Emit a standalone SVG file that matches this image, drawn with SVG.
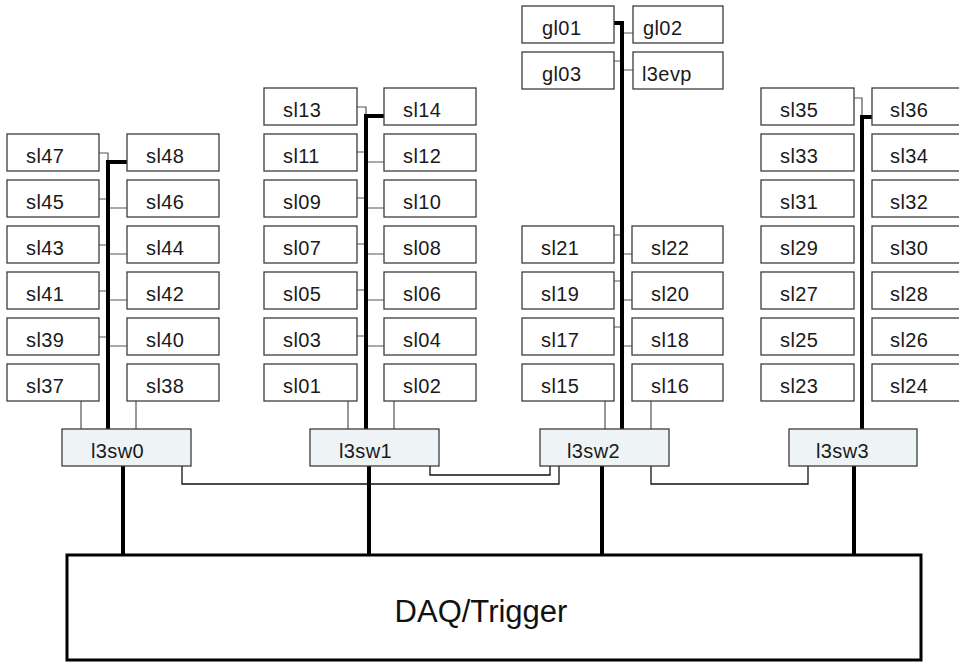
<svg xmlns="http://www.w3.org/2000/svg" width="959" height="663" viewBox="0 0 959 663">
<style>
.b{fill:#fff;stroke:#3c3c3c;stroke-width:1.3}
.s{fill:#eef3f6;stroke:#3c3c3c;stroke-width:1.3}
.t{font-family:"Liberation Sans",Arial,sans-serif;font-size:20px;letter-spacing:0.4px;fill:#1a1a1a}
.th{fill:none;stroke:#000;stroke-width:4}
.tn{fill:none;stroke:#555;stroke-width:1.2}
.tb{fill:none;stroke:#111;stroke-width:1.3}
</style>
<rect width="959" height="663" fill="#fff"/>
<g id="connectors">
<path class="tn" d="M99,153H108V162M99,199H108M108,208H127M99,245H108M108,254H127M99,291H108M108,300H127M99,337H108M108,346H127M81,401V429M136,401V429"/>
<path class="th" d="M127,162H108V429M123,466V555"/>
<path class="tn" d="M357,107H366V116M357,152H366M366,162H384M357,198H366M366,208H384M357,244H366M366,254H384M357,290H366M366,300H384M357,336H366M366,346H384M348,401V429M394,401V429"/>
<path class="th" d="M384,116H366V429M369,466V555"/>
<path class="tn" d="M622,33H633M614,61H622M622,70H633M614,235H622M622,254H632M614,281H622M622,300H632M614,327H622M622,346H632M605,401V429M651,401V429"/>
<path class="th" d="M614,23H622V429M602,466V555"/>
<path class="tn" d="M854,98H862V117"/>
<path class="th" d="M872,117H862V429M854,466V555"/>
<path class="tb" d="M182,466V484H559V466M430,466V475H550V466M651,466V484H808V466"/>
</g>
<g id="sl47"><rect class="b" x="7" y="134" width="92" height="37"/><text class="t" x="26" y="163">sl47</text></g>
<g id="sl48"><rect class="b" x="127" y="134" width="92" height="37"/><text class="t" x="146" y="163">sl48</text></g>
<g id="sl45"><rect class="b" x="7" y="180" width="92" height="37"/><text class="t" x="26" y="209">sl45</text></g>
<g id="sl46"><rect class="b" x="127" y="180" width="92" height="37"/><text class="t" x="146" y="209">sl46</text></g>
<g id="sl43"><rect class="b" x="7" y="226" width="92" height="37"/><text class="t" x="26" y="255">sl43</text></g>
<g id="sl44"><rect class="b" x="127" y="226" width="92" height="37"/><text class="t" x="146" y="255">sl44</text></g>
<g id="sl41"><rect class="b" x="7" y="272" width="92" height="37"/><text class="t" x="26" y="301">sl41</text></g>
<g id="sl42"><rect class="b" x="127" y="272" width="92" height="37"/><text class="t" x="146" y="301">sl42</text></g>
<g id="sl39"><rect class="b" x="7" y="318" width="92" height="37"/><text class="t" x="26" y="347">sl39</text></g>
<g id="sl40"><rect class="b" x="127" y="318" width="92" height="37"/><text class="t" x="146" y="347">sl40</text></g>
<g id="sl37"><rect class="b" x="7" y="364" width="92" height="37"/><text class="t" x="26" y="393">sl37</text></g>
<g id="sl38"><rect class="b" x="127" y="364" width="92" height="37"/><text class="t" x="146" y="393">sl38</text></g>
<g id="l3sw0"><rect class="s" x="62" y="429" width="129" height="37"/><text class="t" x="91" y="458">l3sw0</text></g>

<g id="sl13"><rect class="b" x="264" y="88" width="93" height="37"/><text class="t" x="283" y="117">sl13</text></g>
<g id="sl14"><rect class="b" x="384" y="88" width="92" height="37"/><text class="t" x="403" y="117">sl14</text></g>
<g id="sl11"><rect class="b" x="264" y="134" width="93" height="37"/><text class="t" x="283" y="163">sl11</text></g>
<g id="sl12"><rect class="b" x="384" y="134" width="92" height="37"/><text class="t" x="403" y="163">sl12</text></g>
<g id="sl09"><rect class="b" x="264" y="180" width="93" height="37"/><text class="t" x="283" y="209">sl09</text></g>
<g id="sl10"><rect class="b" x="384" y="180" width="92" height="37"/><text class="t" x="403" y="209">sl10</text></g>
<g id="sl07"><rect class="b" x="264" y="226" width="93" height="37"/><text class="t" x="283" y="255">sl07</text></g>
<g id="sl08"><rect class="b" x="384" y="226" width="92" height="37"/><text class="t" x="403" y="255">sl08</text></g>
<g id="sl05"><rect class="b" x="264" y="272" width="93" height="37"/><text class="t" x="283" y="301">sl05</text></g>
<g id="sl06"><rect class="b" x="384" y="272" width="92" height="37"/><text class="t" x="403" y="301">sl06</text></g>
<g id="sl03"><rect class="b" x="264" y="318" width="93" height="37"/><text class="t" x="283" y="347">sl03</text></g>
<g id="sl04"><rect class="b" x="384" y="318" width="92" height="37"/><text class="t" x="403" y="347">sl04</text></g>
<g id="sl01"><rect class="b" x="264" y="364" width="93" height="37"/><text class="t" x="283" y="393">sl01</text></g>
<g id="sl02"><rect class="b" x="384" y="364" width="92" height="37"/><text class="t" x="403" y="393">sl02</text></g>
<g id="l3sw1"><rect class="s" x="310" y="429" width="129" height="37"/><text class="t" x="339" y="458">l3sw1</text></g>

<g id="gl01"><rect class="b" x="522" y="6" width="92" height="37"/><text class="t" x="542" y="35">gl01</text></g>
<g id="gl02"><rect class="b" x="633" y="6" width="90" height="37"/><text class="t" x="643" y="35">gl02</text></g>
<g id="gl03"><rect class="b" x="522" y="52" width="92" height="37"/><text class="t" x="542" y="81">gl03</text></g>
<g id="l3evp"><rect class="b" x="633" y="52" width="90" height="37"/><text class="t" x="642" y="81">l3evp</text></g>
<g id="sl21"><rect class="b" x="522" y="226" width="92" height="37"/><text class="t" x="541" y="255">sl21</text></g>
<g id="sl22"><rect class="b" x="632" y="226" width="91" height="37"/><text class="t" x="651" y="255">sl22</text></g>
<g id="sl19"><rect class="b" x="522" y="272" width="92" height="37"/><text class="t" x="541" y="301">sl19</text></g>
<g id="sl20"><rect class="b" x="632" y="272" width="91" height="37"/><text class="t" x="651" y="301">sl20</text></g>
<g id="sl17"><rect class="b" x="522" y="318" width="92" height="37"/><text class="t" x="541" y="347">sl17</text></g>
<g id="sl18"><rect class="b" x="632" y="318" width="91" height="37"/><text class="t" x="651" y="347">sl18</text></g>
<g id="sl15"><rect class="b" x="522" y="364" width="92" height="37"/><text class="t" x="541" y="393">sl15</text></g>
<g id="sl16"><rect class="b" x="632" y="364" width="91" height="37"/><text class="t" x="651" y="393">sl16</text></g>
<g id="l3sw2"><rect class="s" x="540" y="429" width="129" height="37"/><text class="t" x="567" y="458">l3sw2</text></g>

<g id="sl35"><rect class="b" x="761" y="88" width="93" height="37"/><text class="t" x="780" y="117">sl35</text></g>
<g id="sl36"><rect class="b" x="872" y="88" width="93" height="37"/><text class="t" x="890" y="117">sl36</text></g>
<g id="sl33"><rect class="b" x="761" y="134" width="93" height="37"/><text class="t" x="780" y="163">sl33</text></g>
<g id="sl34"><rect class="b" x="872" y="134" width="93" height="37"/><text class="t" x="890" y="163">sl34</text></g>
<g id="sl31"><rect class="b" x="761" y="180" width="93" height="37"/><text class="t" x="780" y="209">sl31</text></g>
<g id="sl32"><rect class="b" x="872" y="180" width="93" height="37"/><text class="t" x="890" y="209">sl32</text></g>
<g id="sl29"><rect class="b" x="761" y="226" width="93" height="37"/><text class="t" x="780" y="255">sl29</text></g>
<g id="sl30"><rect class="b" x="872" y="226" width="93" height="37"/><text class="t" x="890" y="255">sl30</text></g>
<g id="sl27"><rect class="b" x="761" y="272" width="93" height="37"/><text class="t" x="780" y="301">sl27</text></g>
<g id="sl28"><rect class="b" x="872" y="272" width="93" height="37"/><text class="t" x="890" y="301">sl28</text></g>
<g id="sl25"><rect class="b" x="761" y="318" width="93" height="37"/><text class="t" x="780" y="347">sl25</text></g>
<g id="sl26"><rect class="b" x="872" y="318" width="93" height="37"/><text class="t" x="890" y="347">sl26</text></g>
<g id="sl23"><rect class="b" x="761" y="364" width="93" height="37"/><text class="t" x="780" y="393">sl23</text></g>
<g id="sl24"><rect class="b" x="872" y="364" width="93" height="37"/><text class="t" x="890" y="393">sl24</text></g>
<g id="l3sw3"><rect class="s" x="789" y="429" width="128" height="37"/><text class="t" x="816" y="458">l3sw3</text></g>

<g id="daq"><rect x="67" y="555" width="854" height="105" fill="#fff" stroke="#000" stroke-width="3"/><text x="481" y="622" text-anchor="middle" font-family="'Liberation Sans',Arial,sans-serif" font-size="31" fill="#111">DAQ/Trigger</text></g>
</svg>
